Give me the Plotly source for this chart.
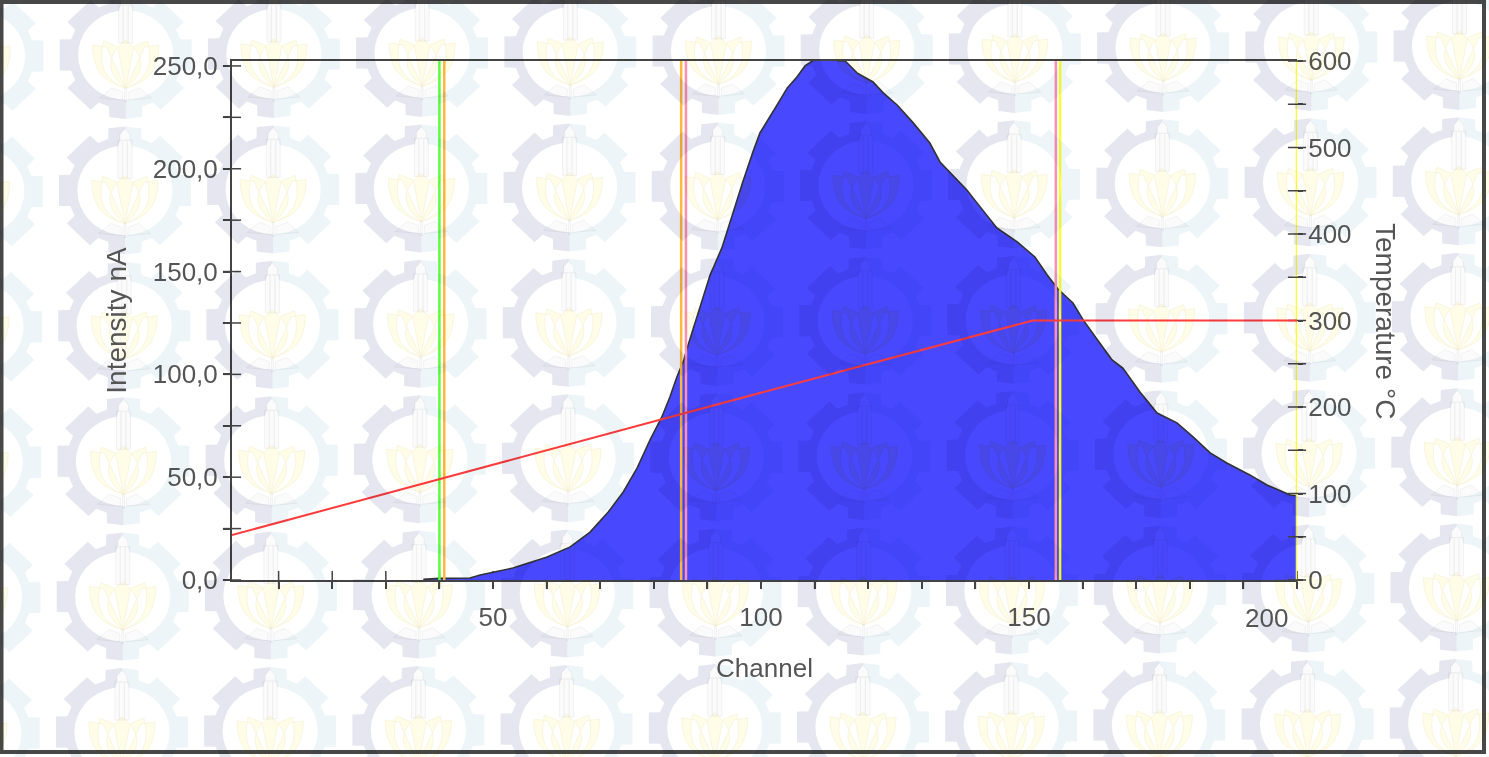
import math
import plotly.graph_objects as go

# ---------- data ----------
channel = [37, 40, 45.7, 47.6, 53.7, 60.1, 64.4, 68.1, 71.5, 74.3, 76.9, 79.3, 81.5, 83.0, 84.3, 85.6,
           86.4, 88.6, 90.5, 92.7, 94.2, 96.6, 98.5, 99.8, 103.0, 104.9, 106.7, 108.2, 109.7, 112, 114.4,
           115.7, 117.9, 120.9, 122.8, 125.4, 128.4, 131.5, 133.4, 136.6, 138.4, 140.3, 144.0, 147.8,
           151.1, 153.4, 155.4, 158.2, 160.1, 163.2, 165.5, 167.5, 170.7, 173.9, 177.6, 180.6, 183.8,
           186.9, 191.2, 194.4, 198.7, 200]
intensity = [0.3, 0.8, 1.0, 2.4, 5.8, 11.2, 16.1, 23.3, 33.1, 42.8, 54.5, 68.1, 79.3, 89.0, 98.7, 107.0,
             114.3, 132.3, 148.3, 161.5, 174.1, 193.6, 208.2, 217.4, 231.0, 239.3, 244.6, 250.0, 252.6, 254, 252.6,
             252.4, 246.6, 242.2, 236.9, 231.0, 222.3, 212.5, 203.3, 194.6, 189.7, 183.4, 171.2, 164.4,
             157.1, 148.3, 141.5, 134.7, 126.5, 115.3, 107.0, 103.1, 91.4, 81.2, 76.4, 69.6, 61.8,
             56.9, 51.1, 46.2, 41.3, 41]
temp_channel = [1.3, 40, 81, 116.6, 150.7, 200]
temperature = [52, 116.8, 185, 244, 300, 300]
marker_channels = [40, 40.9, 85.1, 86.0, 155.0, 155.8, 200]
marker_colors = ["#5cff3c", "#ffb83c", "#ffb83c", "#ff90b0", "#ff90b0", "#ffff30", "#ffff30"]

x_ticks = list(range(10, 201, 10))
x_labels = {50: "50", 100: "100", 150: "150"}
y_ticks = list(range(0, 251, 25))
y_labels = {0: "0,0", 50: "50,0", 100: "100,0", 150: "150,0", 200: "200,0", 250: "250,0"}
y2_ticks = list(range(0, 601, 50))
y2_labels = {0: "0", 100: "100", 200: "200", 300: "300", 400: "400", 500: "500", 600: "600"}

# ---------- layout frame ----------
W, H = 1489, 757
L, R, T, B = 232, 1297, 61, 580
X_RANGE = [1.3, 200]
Y_RANGE = [0, 252.4]
Y2_RANGE = [0, 600]
INK = "#444444"
TEXT = "#555555"
FONT = "Liberation Sans, Arial, sans-serif"


def pxx(v):
    return (v - L) / (R - L)


def pxy(v):
    return (B - v) / (B - T)


def path(points, close=True):
    s = "M" + " L".join(f"{pxx(a):.5f},{pxy(b):.5f}" for a, b in points)
    return s + (" Z" if close else "")


def bez(cx, cy, start, curves, mirror=1):
    s = f"M{pxx(cx + mirror * start[0]):.5f},{pxy(cy + start[1]):.5f}"
    for c in curves:
        if len(c) == 1:
            s += f" L{pxx(cx + mirror * c[0][0]):.5f},{pxy(cy + c[0][1]):.5f}"
        else:
            s += " C" + " ".join(f"{pxx(cx + mirror * p[0]):.5f},{pxy(cy + p[1]):.5f}" for p in c)
    return s + " Z"


def gear_half(cx, cy, side):
    rx, ry, root, inner = 68.0, 64.0, 0.84, 0.70
    pts = [(0, 1.0)]
    for k in range(0, 4):
        c = 45 * k
        pts += [(c + 14, 1.0), (c + 17, root), (c + 28, root), (c + 31, 1.0)]
    pts.append((180, 1.0))
    for a in range(180, 9, -10):
        pts.append((a, inner))
    xy = [(cx + side * rx * r * math.sin(math.radians(a)),
           cy - ry * r * math.cos(math.radians(a))) for a, r in pts]
    # the tower is knocked out of the ring
    xy += [(cx + side * 7, cy - 44), (cx + side * 5, cy - 50), (cx + side * 5, cy - 56), (cx, cy - 62)]
    return path(xy)


def lotus(cx, cy):
    out = []
    for m in (1, -1):
        out.append(bez(cx, cy, (19, -8), [[(33, -10)], [(33, 2), (30, 15), (22, 22)], [(16, 27), (8, 31), (0, 33)]], m))
        out.append(bez(cx, cy, (8, -8), [[(12, -10), (17, -12), (22, -14)], [(24, -5), (26, 8), (20, 18)], [(15, 26), (8, 30), (0, 33)]], m))
    out.append(bez(cx, cy, (0, -15), [[(8, -8), (15, -1), (15, 9)], [(15, 20), (7, 27), (0, 33)],
                                      [(-7, 27), (-15, 20), (-15, 9)], [(-15, -1), (-8, -8), (0, -15)]]))
    return " ".join(out)


def tower(cx, cy):
    out = [path([(cx - 5, cy - 50), (cx - 5, cy - 56), (cx, cy - 62), (cx + 5, cy - 56), (cx + 5, cy - 50)])]
    for a, b in ((-7, -2.5), (-2.5, 2.5), (2.5, 7)):
        out.append(path([(cx + a, cy - 50), (cx + b, cy - 50), (cx + b, cy - 12), (cx + a, cy - 12)]))
    for m in (1, -1):
        out.append(path([(cx + m * 26, cy + 43), (cx + m * 14, cy + 33), (cx + m * 3, cy + 37), (cx + m * 3, cy + 45)]))
    out.append(path([(cx - 1, cy + 33), (cx + 1, cy + 33), (cx + 1, cy + 47), (cx - 1, cy + 47)]))
    return " ".join(out)


grey, blue, yel, tow = [], [], [], []
for j in range(0, 6):
    for i in range(-1, 10):
        y0 = 55 + 135.4 * j
        cx = 126 + 148.2 * i - 0.0055 * y0
        cy = y0 - 0.0068 * (cx - 126)
        grey.append(gear_half(cx, cy, -1))
        blue.append(gear_half(cx, cy, 1))
        yel.append(lotus(cx, cy))
        tow.append(tower(cx, cy))

shapes = [
    dict(type="path", xref="paper", yref="paper", layer="above", path=" ".join(grey),
         fillcolor="#e6e6f0", line=dict(width=0)),
    dict(type="path", xref="paper", yref="paper", layer="above", path=" ".join(blue),
         fillcolor="#eef5f9", line=dict(width=0)),
    dict(type="path", xref="paper", yref="paper", layer="above", path=" ".join(tow),
         fillcolor="#fbfbfb", line=dict(width=0.8, color="#efefef")),
    dict(type="path", xref="paper", yref="paper", layer="above", path=" ".join(yel),
         fillcolor="#fffde8", line=dict(width=0.8, color="#f8f3d8")),
    dict(type="rect", xref="paper", yref="paper", layer="above",
         x0=pxx(1.5), x1=pxx(1484), y0=pxy(752), y1=pxy(2),
         fillcolor="rgba(0,0,0,0)", line=dict(width=4, color="#484848")),
]

fig = go.Figure()

# cross-tick inner halves, drawn under the filled area
fig.add_trace(go.Scatter(x=x_ticks, y=[0] * len(x_ticks), mode="markers", cliponaxis=False, hoverinfo="skip",
                         marker=dict(symbol="line-ns", size=13, line=dict(width=1.5, color=INK))))
fig.add_trace(go.Scatter(x=[X_RANGE[0]] * len(y_ticks), y=y_ticks, mode="markers", cliponaxis=False, hoverinfo="skip",
                         marker=dict(symbol="line-ew", size=13, line=dict(width=1.5, color=INK))))
fig.add_trace(go.Scatter(x=[X_RANGE[1]] * len(y2_ticks), y=y2_ticks, yaxis="y2", mode="markers", cliponaxis=False,
                         hoverinfo="skip", marker=dict(symbol="line-ew", size=13, line=dict(width=1.5, color=INK))))

fig.add_trace(go.Scatter(x=channel, y=intensity, mode="lines", fill="tozeroy", fillcolor="#4848ff",
                         line=dict(color="#333333", width=1.6), name="Intensity"))
for c, col in zip(marker_channels, marker_colors):
    fig.add_trace(go.Scatter(x=[c, c], y=Y_RANGE, mode="lines", cliponaxis=False,
                             line=dict(color=col, width=2.5), hoverinfo="skip"))
fig.add_trace(go.Scatter(x=temp_channel, y=temperature, yaxis="y2", mode="lines",
                         line=dict(color="#ff3c3c", width=2), name="Temperature"))

tick_font = dict(family=FONT, size=26, color=TEXT)
title_font = dict(family=FONT, size=28, color=TEXT)
fig.update_layout(
    width=W, height=H, showlegend=False,
    margin=dict(l=L, r=W - R, t=T, b=H - B, pad=0),
    paper_bgcolor="white", plot_bgcolor="rgba(0,0,0,0)",
    xaxis=dict(range=X_RANGE, showgrid=False, zeroline=False, showline=True, mirror=True,
               linecolor=INK, linewidth=2, ticks="outside", ticklen=7, tickwidth=1.5, tickcolor=INK,
               tickvals=x_ticks, ticktext=[x_labels.get(v, "") for v in x_ticks],
               ticklabelstandoff=6, tickfont=tick_font, automargin=False,
               title=dict(text="Channel", font=dict(family=FONT, size=26, color=TEXT), standoff=28)),
    yaxis=dict(range=Y_RANGE, showgrid=False, zeroline=False, showline=True,
               linecolor=INK, linewidth=2, ticks="outside", ticklen=7, tickwidth=1.5, tickcolor=INK,
               tickvals=y_ticks, ticktext=[y_labels.get(v, "") for v in y_ticks],
               tickfont=tick_font, automargin=False,
               title=dict(text="Intensity nA", font=title_font, standoff=18)),
    yaxis2=dict(range=Y2_RANGE, overlaying="y", side="right", anchor="x", showgrid=False, zeroline=False,
                showline=False, ticks="outside", ticklen=5, tickwidth=1.5, tickcolor=INK,
                tickvals=y2_ticks, ticktext=[y2_labels.get(v, "") for v in y2_ticks],
                tickfont=tick_font, automargin=False),
    annotations=[
        dict(x=200, y=0, xref="x", yref="y", text="200", showarrow=False, xanchor="right",
             yanchor="middle", xshift=-7, yshift=-38, font=tick_font),
        dict(x=pxx(1386), y=pxy(321), xref="paper", yref="paper", text="Temperature °C", showarrow=False,
             textangle=90, xanchor="center", yanchor="middle", font=title_font),
    ],
    shapes=shapes,
)

post = """
var s=document.createElement('style');
s.textContent='html,body{margin:0;padding:0;overflow:hidden;background:#fff}'+
 '.layer-above .shapelayer path{mix-blend-mode:multiply}'+
 '.svg-container{filter:blur(0.6px)}';
document.head.appendChild(s);
"""
fig.write_html("out.html", post_script=post, config=dict(displayModeBar=False))
